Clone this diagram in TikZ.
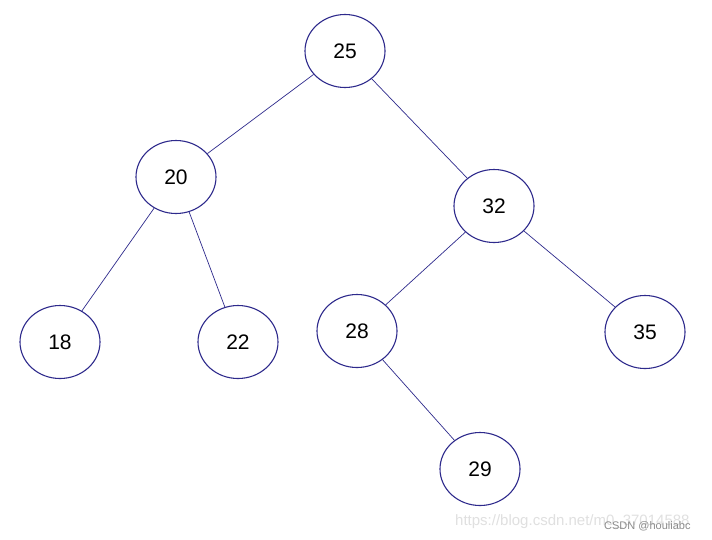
\documentclass[tikz,border=0pt]{standalone}
\usepackage{fontspec}
\setmainfont{Liberation Sans}
\usetikzlibrary{shapes.geometric}
\definecolor{treeblue}{RGB}{46,42,140}
\tikzset{
  treenode/.style={ellipse, draw=treeblue, line width=1.1pt, minimum width=80pt, minimum height=73pt, inner sep=0pt, font=\fontsize{21}{24}\selectfont},
  treeedge/.style={draw=treeblue, line width=0.7pt}
}
\begin{document}
\begin{tikzpicture}[x=1pt,y=-1pt]
\useasboundingbox (0,0) rectangle (712,539);
\fill[white] (0,0) rectangle (712,539);
\node[treenode] (n25) at (345,51) {25};
\node[treenode] (n20) at (176,177) {20};
\node[treenode] (n32) at (494,206) {32};
\node[treenode] (n18) at (60,342) {18};
\node[treenode] (n22) at (238,342) {22};
\node[treenode] (n28) at (357,331) {28};
\node[treenode] (n35) at (645,332) {35};
\node[treenode] (n29) at (480,469) {29};
\draw[treeedge] (n25) -- (n20);
\draw[treeedge] (n25) -- (n32);
\draw[treeedge] (n20) -- (n18);
\draw[treeedge] (n20) -- (n22);
\draw[treeedge] (n32) -- (n28);
\draw[treeedge] (n32) -- (n35);
\draw[treeedge] (n28) -- (n29);
\node[anchor=west, text=black!12, font=\fontsize{15}{17}\selectfont, inner sep=0pt] (wm1) at (455,522) {https://blog.csdn.net/m0\_37014588};
\node[anchor=west, text=black!45, font=\fontsize{11}{13}\selectfont, inner sep=0pt] (wm2) at (604,526) {CSDN @houliabc};
\end{tikzpicture}
\end{document}
